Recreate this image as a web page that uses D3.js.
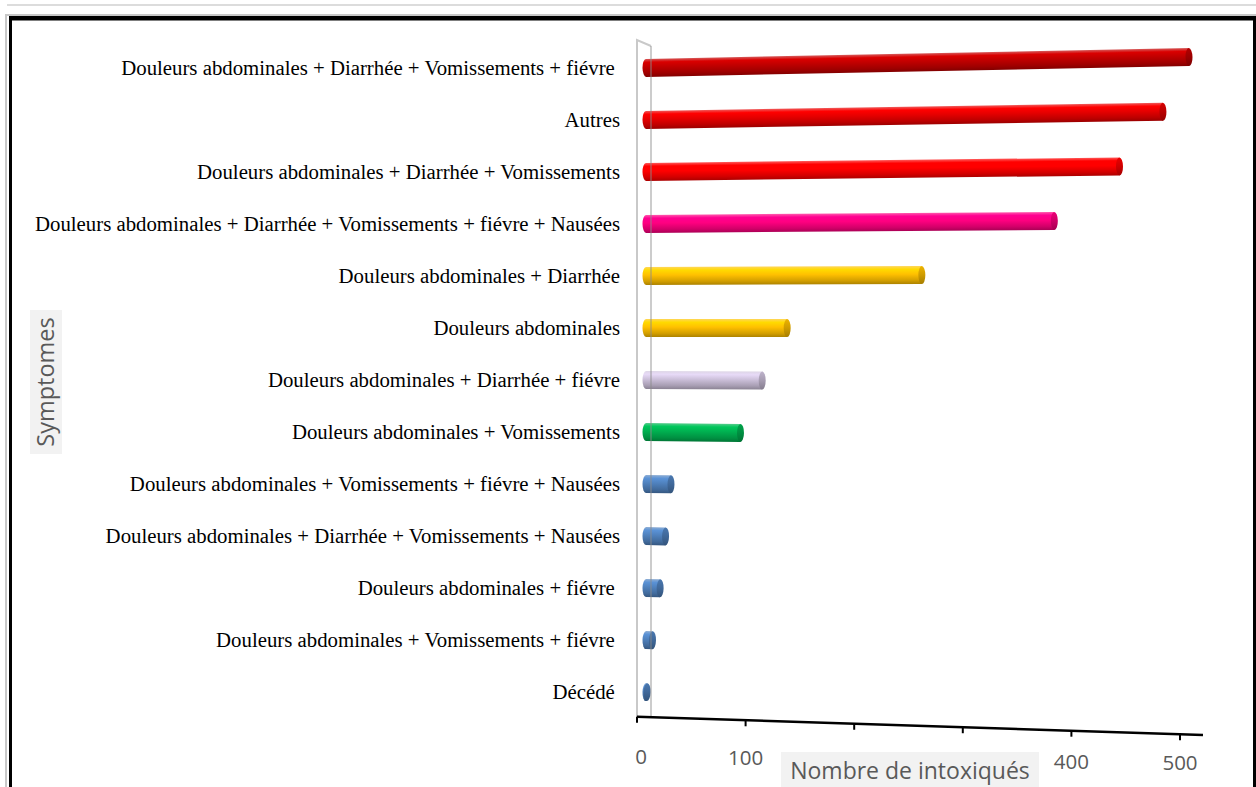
<!DOCTYPE html>
<html>
<head>
<meta charset="utf-8">
<script src="https://cdn.jsdelivr.net/npm/d3@7"></script>
<style>
  html, body { margin: 0; padding: 0; background: #fff; overflow: hidden; }
  text { white-space: pre; }
</style>
</head>
<body>
<svg id="chart" width="1256" height="787"></svg>
<script>
// Symptom groups, listed top to bottom
const categories = [
  "Douleurs abdominales + Diarrhée + Vomissements + fiévre ",
  "Autres",
  "Douleurs abdominales + Diarrhée + Vomissements",
  "Douleurs abdominales + Diarrhée + Vomissements + fiévre + Nausées",
  "Douleurs abdominales + Diarrhée",
  "Douleurs abdominales",
  "Douleurs abdominales + Diarrhée + fiévre",
  "Douleurs abdominales + Vomissements",
  "Douleurs abdominales + Vomissements + fiévre + Nausées",
  "Douleurs abdominales + Diarrhée + Vomissements + Nausées",
  "Douleurs abdominales + fiévre ",
  "Douleurs abdominales + Vomissements + fiévre ",
  "Décédé "
];

// Number of poisoned people per symptom group
const values = [500, 476, 436, 376, 254, 130, 107, 87, 23, 18, 13, 6, 1];

// Bar colours
const barColors = [
  "#c00000", "#e60000", "#ff0000", "#ff0080",
  "#ffc000", "#ffc000", "#ccc0da", "#00b050",
  "#4f81bd", "#4f81bd", "#4f81bd", "#4f81bd", "#4f81bd"
];

const xTicks = [0, 100, 200, 300, 400, 500];
// 200 and 300 sit under the axis title box, so they carry no label
const xTickLabels = ["0", "100", "", "", "400", "500"];
const xTitle = "Nombre de intoxiqués";
const yTitle = "Symptomes";

const svg = d3.select("#chart");
const defs = svg.append("defs");

// ---- outer frame ----
svg.append("rect").attr("x", 7).attr("y", 4).attr("width", 1249).attr("height", 2).attr("fill", "#dcdcdc");
svg.append("rect").attr("x", 5).attr("y", 14).attr("width", 2).attr("height", 773).attr("fill", "#c8c8c8");
svg.append("rect").attr("x", 7).attr("y", 14).attr("width", 1249).attr("height", 2).attr("fill", "#c8c8c8");
svg.append("rect").attr("x", 9).attr("y", 16).attr("width", 1247).attr("height", 4.5).attr("fill", "#000");
svg.append("rect").attr("x", 9).attr("y", 16).attr("width", 3).attr("height", 771).attr("fill", "#000");
svg.append("rect").attr("x", 1253).attr("y", 16).attr("width", 3).attr("height", 771).attr("fill", "#000");

// ---- scales ----
const x = d3.scaleLinear().domain([0, 500]).range([637, 1180]);      // front (axis) plane
const xBar = d3.scaleLinear().domain([0, 500]).range([646, 1189]);   // back (wall) plane
const y = d3.scalePoint().domain(categories).range([68, 692]);

// Rows fan out slightly to the right, as seen from a far-left vanishing point
const vpY = 318, vpDist = 12471, vpX0 = 643;
const persp = (px, py) => py + (py - vpY) * (px - vpX0) / vpDist;

// ---- side wall ----
const wallTop = 40, wallBottom = 717;
svg.append("path")
  .attr("d", `M637,${wallBottom} L637,${wallTop} L651,${wallTop + 6}`)
  .attr("fill", "none").attr("stroke", "#c9c9c9").attr("stroke-width", 2);

// ---- category labels ----
svg.append("g")
  .selectAll("text")
  .data(categories)
  .join("text")
  .attr("x", 620)
  .attr("y", d => y(d))
  .attr("dy", "0.35em")
  .attr("text-anchor", "end")
  .attr("font-family", "'Liberation Serif', 'Times New Roman', serif")
  .attr("font-size", 20.8)
  .attr("fill", "#000")
  .text(d => d);

// ---- cylinder bars ----
const barH = 18, capRx = 3.5;
const bars = svg.append("g");
categories.forEach((cat, i) => {
  const c = d3.color(barColors[i]);
  const gid = "g" + i, cid = "c" + i;
  const lg = defs.append("linearGradient").attr("id", gid)
    .attr("x1", 0).attr("y1", 0).attr("x2", 0).attr("y2", 1);
  [[0, d3.interpolateRgb(c, "#fff")(0.35)],
   [0.18, c.brighter(0.35)],
   [0.45, c],
   [0.8, c.darker(0.55)],
   [1, c.darker(1.1)]].forEach(([o, col]) =>
     lg.append("stop").attr("offset", o).attr("stop-color", col));
  const cg = defs.append("linearGradient").attr("id", cid)
    .attr("x1", 0).attr("y1", 0).attr("x2", 0).attr("y2", 1);
  [[0, c.darker(0.2)], [0.5, c.darker(0.6)], [1, c.darker(1.2)]].forEach(([o, col]) =>
     cg.append("stop").attr("offset", o).attr("stop-color", col));

  const yc = y(cat);
  const xl = xBar(0), xr = xBar(values[i]);
  const yl = persp(xl, yc), yr = persp(xr, yc);
  const len = Math.hypot(xr - xl, yr - yl);
  const ang = Math.atan2(yr - yl, xr - xl) * 180 / Math.PI;
  const h2 = barH / 2;

  const g = bars.append("g").attr("transform", `translate(${xl},${yl}) rotate(${ang})`);
  g.append("path")
    .attr("d", `M0,${-h2} L${len},${-h2} L${len},${h2} L0,${h2} A${capRx},${h2} 0 0 1 0,${-h2} Z`)
    .attr("fill", `url(#${gid})`);
  g.append("ellipse")
    .attr("cx", len).attr("cy", 0).attr("rx", capRx).attr("ry", h2)
    .attr("fill", `url(#${cid})`);
});

// inner wall edge, faintly visible across the bar bases
svg.append("line")
  .attr("x1", 651).attr("x2", 651).attr("y1", wallTop + 6).attr("y2", wallBottom)
  .attr("stroke", "#8c8c8c").attr("stroke-width", 1.6).attr("opacity", 0.55);

// ---- value axis (slanted with the perspective) ----
const axisY = 717;
const ax = svg.append("g");
ax.append("line")
  .attr("x1", x(0)).attr("y1", persp(x(0), axisY))
  .attr("x2", 1203).attr("y2", persp(1203, axisY))
  .attr("stroke", "#000").attr("stroke-width", 2.5);
ax.selectAll("line.tick")
  .data(xTicks)
  .join("line")
  .attr("class", "tick")
  .attr("x1", d => x(d)).attr("x2", d => x(d))
  .attr("y1", d => persp(x(d), axisY))
  .attr("y2", d => persp(x(d), axisY) + 6)
  .attr("stroke", "#000").attr("stroke-width", 2);
ax.selectAll("text")
  .data(xTicks.filter((d, i) => xTickLabels[i] !== ""))
  .join("text")
  .attr("x", d => x(d) + (d === 0 ? 4 : 0))
  .attr("y", d => 757 + 0.35 * (persp(x(d), axisY) - axisY))
  .attr("dy", "0.35em")
  .attr("text-anchor", "middle")
  .attr("font-family", "'Open Sans', 'Noto Sans', sans-serif")
  .attr("font-size", 20.5)
  .attr("fill", "#595959")
  .text(d => xTickLabels[xTicks.indexOf(d)]);

// ---- axis titles ----
svg.append("rect").attr("x", 781).attr("y", 752).attr("width", 258).attr("height", 40).attr("fill", "#f2f2f2");
svg.append("text")
  .attr("x", 910).attr("y", 771).attr("dy", "0.35em")
  .attr("text-anchor", "middle")
  .attr("font-family", "'Open Sans', 'Noto Sans', sans-serif")
  .attr("font-size", 23)
  .attr("fill", "#595959")
  .text(xTitle);

svg.append("rect").attr("x", 30).attr("y", 310).attr("width", 32).attr("height", 144).attr("fill", "#f2f2f2");
svg.append("text")
  .attr("transform", "translate(46,382) rotate(-90)")
  .attr("dy", "0.35em")
  .attr("text-anchor", "middle")
  .attr("font-family", "'Open Sans', 'Noto Sans', sans-serif")
  .attr("font-size", 23.5)
  .attr("fill", "#595959")
  .text(yTitle);
</script>
</body>
</html>
